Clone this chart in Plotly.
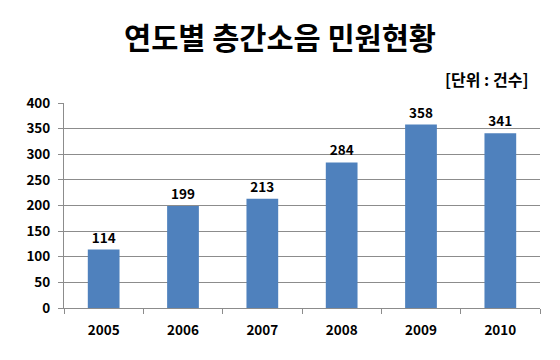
import plotly.graph_objects as go

years = ["2005", "2006", "2007", "2008", "2009", "2010"]
counts = [114, 199, 213, 284, 358, 341]
y_ticks = [0, 50, 100, 150, 200, 250, 300, 350, 400]

font_family = "Noto Sans CJK KR, Noto Sans, sans-serif"

fig = go.Figure(go.Bar(
    x=years, y=counts,
    marker=dict(color="#4F81BD", line=dict(width=0)),
    text=[f"<b>{v}</b>" for v in counts],
    textposition="outside",
    textfont=dict(size=13.5, color="#000000", family=font_family),
    cliponaxis=False,
    width=0.4,
))

fig.update_layout(
    width=560, height=360,
    margin=dict(l=64, r=20, t=103, b=52),
    paper_bgcolor="white", plot_bgcolor="white",
    showlegend=False,
    font=dict(family=font_family, color="#000000"),
    title=dict(text="<b>연도별 층간소음 민원현황</b>", x=0.5, xanchor="center",
               y=1 - 39 / 360, yanchor="middle", font=dict(size=29.5, color="#000000", family=font_family)),
    annotations=[dict(text="<b>[단위 : 건수]</b>", xref="paper", yref="paper",
                      x=1.0, y=1.0, xanchor="right", yanchor="middle", yshift=24, xshift=-10,
                      showarrow=False, font=dict(size=16, color="#000000", family=font_family))],
)

fig.update_xaxes(
    showline=True, linecolor="#8C8C8C", linewidth=1,
    ticks="outside", tickson="boundaries", ticklen=5, tickcolor="#8C8C8C",
    tickfont=dict(size=13.5, color="#000000", family=font_family),
    tickprefix="<b>", ticksuffix="</b>",
    ticklabelstandoff=10,
    showgrid=False,
)
fig.update_yaxes(
    range=[0, 400], tickvals=y_ticks,
    ticktext=[f"<b>{v}</b>" for v in y_ticks],
    showline=True, linecolor="#8C8C8C", linewidth=1,
    ticks="outside", ticklen=5, tickcolor="#8C8C8C",
    showgrid=True, gridcolor="#8C8C8C", gridwidth=1,
    tickfont=dict(size=13.5, color="#000000", family=font_family),
    ticklabelstandoff=5,
    zeroline=False,
)

fig.write_html("out.html")
